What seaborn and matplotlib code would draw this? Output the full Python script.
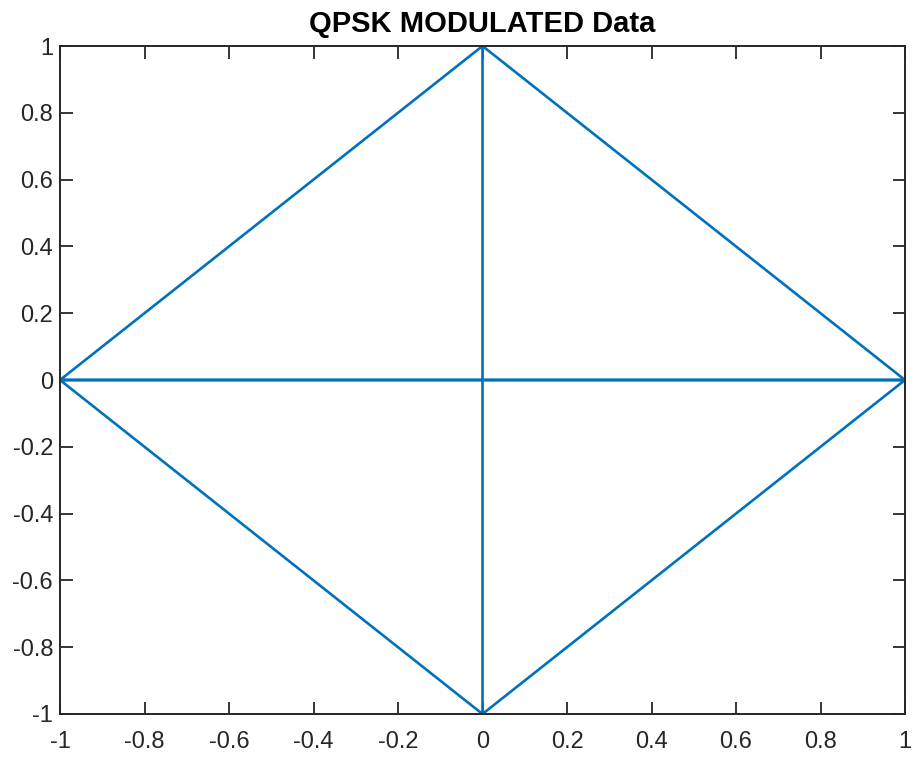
import matplotlib
matplotlib.use("Agg")
import matplotlib.pyplot as plt
import seaborn as sns
import pandas as pd
import numpy as np

# QPSK symbol sequence (in-phase, quadrature) connected by a line
in_phase = [0, 1, -1, 0, 0, 1, -1, 0]
quadrature = [1, 0, 0, 1, -1, 0, 0, -1]
ticks = [-1, -0.8, -0.6, -0.4, -0.2, 0, 0.2, 0.4, 0.6, 0.8, 1]
tick_labels = ["-1", "-0.8", "-0.6", "-0.4", "-0.2", "0", "0.2", "0.4", "0.6", "0.8", "1"]
title = "QPSK MODULATED Data"

sns.set_theme(style="white")
plt.rcParams['font.family'] = ['Liberation Sans', 'DejaVu Sans']

df = pd.DataFrame({"I": in_phase, "Q": quadrature, "order": range(len(in_phase))})

fig = plt.figure(figsize=(9.19, 7.6), dpi=100)
ax = fig.add_axes([60/919, 1-714/760, (905-60)/919, (714-46)/760])
sns.lineplot(data=df, x="I", y="Q", sort=False, estimator=None, ax=ax,
             color="#0072BD", linewidth=1.9)

ax.set_xlim(-1, 1)
ax.set_ylim(-1, 1)
ax.set_xticks(ticks)
ax.set_xticklabels(tick_labels)
ax.set_yticks(ticks)
ax.set_yticklabels(tick_labels)
ax.set_xlabel("")
ax.set_ylabel("")
ax.tick_params(direction="in", length=9, width=1.3, colors="#262626",
               labelsize=17, top=True, right=True, bottom=True, left=True)
ax.tick_params(axis="x", pad=12)
ax.tick_params(axis="y", pad=5)
for s in ax.spines.values():
    s.set_visible(True)
    s.set_color("#262626")
    s.set_linewidth(1.4)
ax.set_title(title, fontsize=21, fontweight="bold", color="black", pad=10)

fig.savefig("out.png", dpi=100, facecolor="white")
